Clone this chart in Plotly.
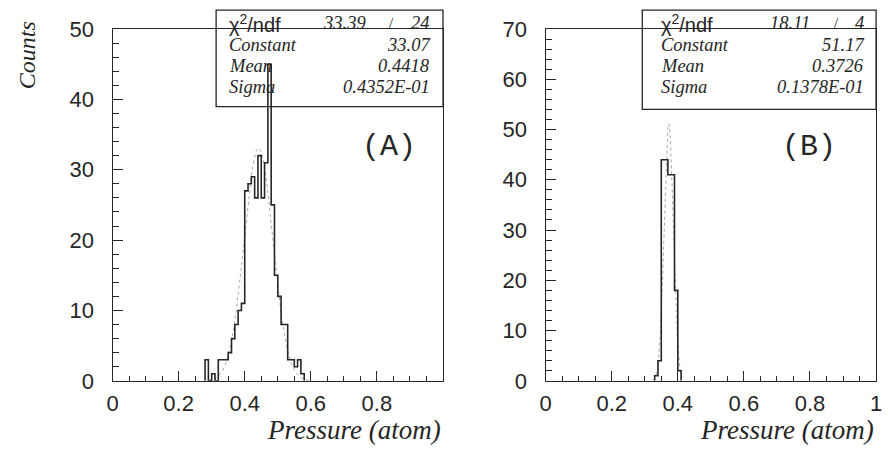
import math
import plotly.graph_objects as go

# ---- data -----------------------------------------------------------------
BIN_W = 0.01

# panel (A): lower bin edges and counts
a_edges = [0.28, 0.29, 0.30, 0.31, 0.32, 0.33, 0.34, 0.35, 0.36, 0.37,
           0.38, 0.39, 0.40, 0.41, 0.42, 0.43, 0.44, 0.45, 0.46, 0.47,
           0.48, 0.49, 0.50, 0.51, 0.52, 0.53, 0.54, 0.55, 0.56, 0.57]
a_counts = [3, 0, 1, 0, 3, 3, 3, 4, 6, 8,
            10, 11, 27, 28, 29, 26, 32, 26, 31, 45,
            25, 15, 12, 8, 8, 3, 3, 2, 3, 1]

# panel (B)
b_edges = [0.33, 0.34, 0.35, 0.36, 0.37, 0.38, 0.39, 0.40]
b_counts = [1, 4, 44, 44, 41, 41, 18, 2]

# gaussian fit results shown in the stats boxes
a_fit = {"chi2": "33.39", "ndf": "24", "const": 33.07, "mean": 0.4418, "sigma": 0.04352,
         "const_s": "33.07", "mean_s": "0.4418", "sigma_s": "0.4352E-01"}
b_fit = {"chi2": "18.11", "ndf": "4", "const": 51.17, "mean": 0.3726, "sigma": 0.01378,
         "const_s": "51.17", "mean_s": "0.3726", "sigma_s": "0.1378E-01"}

a_xticks = [0, 0.2, 0.4, 0.6, 0.8]
a_xlabels = ["0", "0.2", "0.4", "0.6", "0.8"]
b_xticks = [0, 0.2, 0.4, 0.6, 0.8, 1.0]
b_xlabels = ["0", "0.2", "0.4", "0.6", "0.8", "1"]

# ---- helpers ----------------------------------------------------------------
W, H = 888, 460
INK = "#262626"


def step_xy(edges, counts):
    xs = [edges[0]] + list(edges) + [edges[-1] + BIN_W]
    ys = [0] + list(counts) + [0]
    return xs, ys


def gauss_xy(p, n=160):
    lo, hi = p["mean"] - 3.5 * p["sigma"], p["mean"] + 3.5 * p["sigma"]
    xs = [lo + (hi - lo) * i / (n - 1) for i in range(n)]
    ys = [p["const"] * math.exp(-0.5 * ((x - p["mean"]) / p["sigma"]) ** 2) for x in xs]
    return xs, ys


def px(x):
    return x / W


def py(y):
    return 1 - y / H


fig = go.Figure()

for ax, edges, counts, fit in (("", a_edges, a_counts, a_fit), ("2", b_edges, b_counts, b_fit)):
    gx, gy = gauss_xy(fit)
    fig.add_trace(go.Scatter(x=gx, y=gy, mode="lines", xaxis="x" + ax, yaxis="y" + ax,
                             line=dict(color="#a8a8a8", width=1, dash="dot"),
                             hoverinfo="skip", showlegend=False))
    sx, sy = step_xy(edges, counts)
    fig.add_trace(go.Scatter(x=sx, y=sy, mode="lines", line_shape="hv",
                             xaxis="x" + ax, yaxis="y" + ax,
                             line=dict(color=INK, width=1.6), showlegend=False))

tick_font = dict(family="Liberation Sans", size=22, color=INK)
y_dom = [py(390), py(18)]

common_x = dict(range=[0, 1], showline=True, linecolor=INK, linewidth=1.3, mirror=True,
                ticks="inside", ticklen=10, tickwidth=1.2, tickcolor=INK,
                tickmode="array", showgrid=False, zeroline=False, tickfont=tick_font,
                ticklabelstandoff=3, ticklabeloverflow="allow",
                minor=dict(ticks="inside", ticklen=5, tickwidth=1, tickcolor=INK,
                           dtick=0.05, tick0=0, showgrid=False))
common_y = dict(showline=True, linecolor=INK, linewidth=1.3, mirror=True,
                ticks="inside", ticklen=10, tickwidth=1.2, tickcolor=INK,
                tickmode="linear", tick0=0, dtick=10,
                showgrid=False, zeroline=False, tickfont=tick_font, ticklabelstandoff=13,
                minor=dict(ticks="inside", ticklen=6, tickwidth=1, tickcolor=INK,
                           dtick=2, tick0=0, showgrid=False))

fig.update_layout(
    width=W, height=H, margin=dict(l=0, r=0, t=0, b=0),
    paper_bgcolor="white", plot_bgcolor="white",
    xaxis=dict(common_x, domain=[px(108), px(443)], anchor="y",
               tickvals=a_xticks, ticktext=a_xlabels),
    yaxis=dict(common_y, domain=y_dom, anchor="x", range=[0, 50]),
    xaxis2=dict(common_x, domain=[px(547), px(882)], anchor="y2",
                tickvals=b_xticks, ticktext=b_xlabels),
    yaxis2=dict(common_y, domain=y_dom, anchor="x2", range=[0, 70]),
)

serif = "Liberation Serif"
anns = []
shapes = []

# axis titles
for xr in (443, 882):
    anns.append(dict(text="<i>Pressure (atom)</i>", x=px(xr), y=py(442), xref="paper", yref="paper",
                     xanchor="right", yanchor="middle", showarrow=False,
                     font=dict(family=serif, size=27, color=INK)))
anns.append(dict(text="<i>Counts</i>", x=px(22), y=py(46), xref="paper", yref="paper",
                 textangle=-90, xanchor="center", yanchor="middle", showarrow=False,
                 font=dict(family=serif, size=24, color=INK)))

# panel tags
for tag, xc in (("(A)", 388), ("(B)", 814)):
    anns.append(dict(text=tag, x=px(xc), y=py(143), xref="paper", yref="paper",
                     xanchor="center", yanchor="middle", showarrow=False,
                     font=dict(family="Liberation Mono", size=30, color=INK)))

# stats boxes
rows_y = [12, 34.5, 57, 79.5]
for fit, x0, x1, xl, xv, xslash, xratio_r, ybot in (
        (a_fit, 213, 443, 224, 432, 391, 367, 100),
        (b_fit, 645, 882, 662, 872, 842, 817, 103)):
    shapes.append(dict(type="rect", xref="paper", yref="paper",
                       x0=px(x0), x1=px(x1), y0=py(ybot), y1=py(-2),
                       line=dict(color=INK, width=1.3), fillcolor="rgba(0,0,0,0)", layer="above"))
    lab_font = dict(family=serif, size=18.5, color=INK)
    anns.append(dict(text="χ<sup>2</sup>/ndf", x=px(xl), y=py(rows_y[0]), xref="paper", yref="paper",
                     xanchor="left", yanchor="middle", showarrow=False,
                     font=dict(family="Liberation Sans", size=20, color=INK)))
    anns.append(dict(text="<i>" + fit["chi2"] + "</i>", x=px(xratio_r), y=py(rows_y[0]),
                     xref="paper", yref="paper", xanchor="right", yanchor="middle",
                     showarrow=False, font=lab_font))
    anns.append(dict(text="/", x=px(xslash), y=py(rows_y[0]), xref="paper", yref="paper",
                     xanchor="center", yanchor="middle", showarrow=False,
                     font=dict(family=serif, size=15, color=INK)))
    anns.append(dict(text="<i>" + fit["ndf"] + "</i>", x=px(xv), y=py(rows_y[0]),
                     xref="paper", yref="paper", xanchor="right", yanchor="middle",
                     showarrow=False, font=lab_font))
    for name, key, yy in (("Constant", "const_s", rows_y[1]), ("Mean", "mean_s", rows_y[2]),
                          ("Sigma", "sigma_s", rows_y[3])):
        anns.append(dict(text="<i>" + name + "</i>", x=px(xl), y=py(yy), xref="paper", yref="paper",
                         xanchor="left", yanchor="middle", showarrow=False, font=lab_font))
        anns.append(dict(text="<i>" + fit[key] + "</i>", x=px(xv), y=py(yy), xref="paper",
                         yref="paper", xanchor="right", yanchor="middle", showarrow=False,
                         font=lab_font))

fig.update_layout(annotations=anns, shapes=shapes)

fig.write_html("out.html")
